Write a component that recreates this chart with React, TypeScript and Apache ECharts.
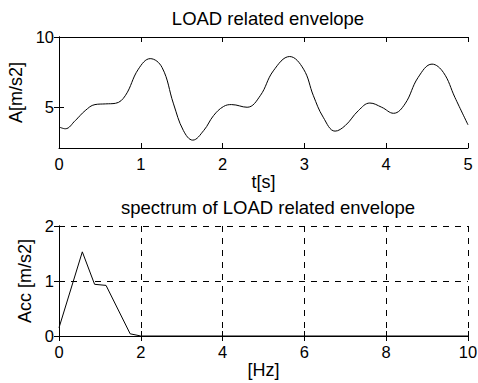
import React, { useEffect, useRef } from "react";
import * as echarts from "echarts";

const envelopeT = [0, 0.077, 0.2, 0.32, 0.44, 0.57, 0.69, 0.81, 0.97, 1.115, 1.26, 1.4, 1.52, 1.635, 1.77, 1.89, 2.01, 2.11, 2.3, 2.46, 2.62, 2.82, 2.99, 3.11, 3.23, 3.375, 3.5, 3.66, 3.8, 3.945, 4.09, 4.23, 4.39, 4.56, 4.7, 4.84, 5.0];
const envelopeA = [3.6, 3.47, 4.06, 4.76, 5.19, 5.24, 5.28, 5.82, 7.71, 8.46, 7.83, 5.24, 3.35, 2.66, 3.35, 4.41, 5.05, 5.19, 5.0, 5.82, 7.59, 8.61, 7.71, 5.82, 4.29, 3.3, 3.7, 4.76, 5.3, 5.0, 4.57, 5.24, 7.12, 8.07, 7.47, 5.7, 3.75];

const specF = [0, 0.57, 0.87, 1.15, 1.74, 2.0, 10];
const specAcc = [0.15, 1.53, 0.94, 0.92, 0.04, 0, 0];

const topYTicks = [5, 10];

const FONT = "Liberation Sans, Arial, sans-serif";

export default function App() {
  const ref = useRef<HTMLDivElement>(null);
  useEffect(() => {
    document.body.style.margin = "0";
    const chart = echarts.init(ref.current!, null, { renderer: "svg" });
    const axisLine = { show: true, lineStyle: { color: "#000", width: 1 } };
    const tickIn = { show: true, inside: true, length: 5, lineStyle: { color: "#000" } };
    const xlbl = { color: "#000", fontSize: 16.5, fontFamily: FONT, margin: 7 };
    const ylbl = { color: "#000", fontSize: 16.5, fontFamily: FONT, margin: 5 };
    const nameStyle = { color: "#000", fontSize: 18, fontFamily: FONT };
    const titleStyle = { color: "#000", fontSize: 18.5, fontWeight: "normal", fontFamily: FONT };
    const dashed = { show: true, lineStyle: { color: "#000", type: [6, 6], width: 1 } };
    chart.setOption({
      animation: false,
      backgroundColor: "#fff",
      title: [
        { text: "LOAD related envelope", left: 263, top: 4, textAlign: "center", textStyle: titleStyle },
        { text: "spectrum of LOAD related envelope", left: 263, top: 193, textAlign: "center", textStyle: titleStyle },
      ],
      grid: [
        { left: 59, right: 10, top: 37, height: 111, containLabel: false, outerBoundsMode: "none" },
        { left: 59, right: 10, top: 226, height: 110, containLabel: false, outerBoundsMode: "none" },
      ],
      xAxis: [
        { type: "value", gridIndex: 0, min: 0, max: 5, interval: 1, axisLine, axisTick: tickIn, axisLabel: xlbl, splitLine: { show: false },
          name: "t[s]", nameLocation: "middle", nameGap: 20, nameTextStyle: nameStyle },
        { type: "value", gridIndex: 0, position: "top", min: 0, max: 5, interval: 1, axisLine, axisTick: tickIn, axisLabel: { show: false }, splitLine: { show: false } },
        { type: "value", gridIndex: 1, min: 0, max: 10, interval: 2, axisLine, axisTick: tickIn, axisLabel: xlbl, splitLine: dashed,
          name: "[Hz]", nameLocation: "middle", nameGap: 24, nameTextStyle: nameStyle },
        { type: "value", gridIndex: 1, position: "top", min: 0, max: 10, interval: 2, axisLine, axisTick: tickIn, axisLabel: { show: false }, splitLine: { show: false } },
      ],
      yAxis: [
        { type: "value", gridIndex: 0, min: 2.1, max: 10, axisLine,
          axisTick: { ...tickIn, customValues: topYTicks }, axisLabel: { ...ylbl, customValues: topYTicks }, splitLine: { show: false },
          name: "A[m/s2]", nameLocation: "middle", nameGap: 26, nameTextStyle: nameStyle },
        { type: "value", gridIndex: 0, position: "right", min: 2.1, max: 10, axisLine,
          axisTick: { ...tickIn, customValues: topYTicks }, axisLabel: { show: false }, splitLine: { show: false } },
        { type: "value", gridIndex: 1, min: 0, max: 2, interval: 1, axisLine, axisTick: tickIn, axisLabel: ylbl, splitLine: dashed,
          name: "Acc [m/s2]", nameLocation: "middle", nameGap: 15, nameTextStyle: nameStyle },
        { type: "value", gridIndex: 1, position: "right", min: 0, max: 2, interval: 1, axisLine, axisTick: tickIn, axisLabel: { show: false }, splitLine: { show: false } },
      ],
      series: [
        { type: "line", xAxisIndex: 0, yAxisIndex: 0, smooth: 0.4, symbol: "none",
          lineStyle: { color: "#000", width: 1 }, data: envelopeT.map((t, i) => [t, envelopeA[i]]) },
        { type: "line", xAxisIndex: 2, yAxisIndex: 2, symbol: "none",
          lineStyle: { color: "#000", width: 1 }, data: specF.map((f, i) => [f, specAcc[i]]) },
      ],
    });
    return () => chart.dispose();
  }, []);
  return <div ref={ref} style={{ width: 478, height: 383 }} />;
}
